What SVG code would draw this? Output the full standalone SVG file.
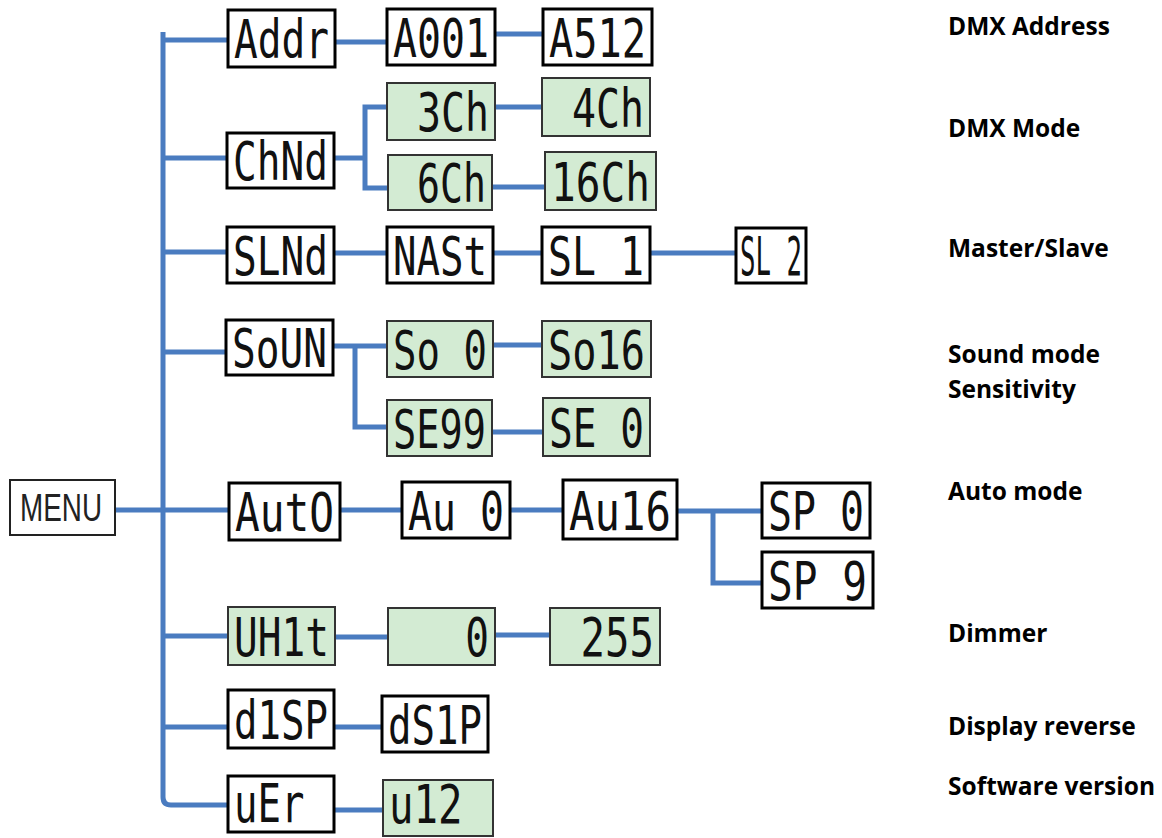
<svg xmlns="http://www.w3.org/2000/svg" width="1162" height="838" viewBox="0 0 1162 838">
<style>
.box{fill:#fff;stroke:#000;stroke-width:3}
.gbox{fill:#d3ebd3;stroke:#333;stroke-width:2}
.mbox{fill:#fff;stroke:#222;stroke-width:2}
.seg{font-family:"DejaVu Sans Mono",monospace;font-weight:normal;font-size:54px;fill:#111}
.lbl{font-family:"Open Sans",sans-serif;font-weight:bold;font-size:24.5px;fill:#000}
.menu{font-family:"Liberation Sans",Arial,sans-serif;font-size:38px;fill:#222}
.conn{stroke:#4a7cc0;stroke-width:5;fill:none}
</style>
<rect width="1162" height="838" fill="#fff"/>
<g id="connectors" class="conn">
<path d="M163,32 V797 Q163,805 171,805 H228"/>
<path d="M163,40 H228"/>
<path d="M163,158 H227"/>
<path d="M163,252 H227"/>
<path d="M163,352 H226"/>
<path d="M115,510 H229"/>
<path d="M163,636 H228"/>
<path d="M163,727 H228"/>
<path d="M335,42 H387"/>
<path d="M495,34 H543"/>
<path d="M334,158 H365"/>
<path d="M387,107 H365 V188 H388"/>
<path d="M495,107 H542"/>
<path d="M492,187 H545"/>
<path d="M334,253 H387"/>
<path d="M493,253 H542"/>
<path d="M650,253 H736"/>
<path d="M333,346 H387"/>
<path d="M355,346 V427 H387"/>
<path d="M493,345 H542"/>
<path d="M492,432 H543"/>
<path d="M340,510 H402"/>
<path d="M510,510 H563"/>
<path d="M677,511 H762"/>
<path d="M713,511 V583 H762"/>
<path d="M335,637 H388"/>
<path d="M495,635 H550"/>
<path d="M334,727 H382"/>
<path d="M334,810 H383"/>
</g>
<g id="menu"><rect class="mbox" x="10" y="480" width="105" height="55"/><text class="menu" x="20" y="521" textLength="82" lengthAdjust="spacingAndGlyphs">MENU</text></g>
<g id="addr"><rect class="box" x="228" y="10" width="107" height="57"/><text class="seg" x="234" y="58" textLength="95" lengthAdjust="spacingAndGlyphs">Addr</text></g>
<g id="a001"><rect class="box" x="387" y="9" width="108" height="56"/><text class="seg" x="393" y="57" textLength="96" lengthAdjust="spacingAndGlyphs">A001</text></g>
<g id="a512"><rect class="box" x="543" y="9" width="109" height="56"/><text class="seg" x="549" y="57" textLength="97" lengthAdjust="spacingAndGlyphs">A512</text></g>
<g id="chnd"><rect class="box" x="227" y="133" width="107" height="55"/><text class="seg" x="233" y="180" textLength="95" lengthAdjust="spacingAndGlyphs">ChNd</text></g>
<g id="ch3"><rect class="gbox" x="387" y="83" width="108" height="57"/><text class="seg" x="393" y="131" textLength="96" lengthAdjust="spacingAndGlyphs" xml:space="preserve"> 3Ch</text></g>
<g id="ch4"><rect class="gbox" x="542" y="78" width="108" height="58"/><text class="seg" x="548" y="127" textLength="96" lengthAdjust="spacingAndGlyphs" xml:space="preserve"> 4Ch</text></g>
<g id="ch6"><rect class="gbox" x="388" y="155" width="104" height="55"/><text class="seg" x="394" y="202" textLength="92" lengthAdjust="spacingAndGlyphs" xml:space="preserve"> 6Ch</text></g>
<g id="ch16"><rect class="gbox" x="545" y="152" width="111" height="58"/><text class="seg" x="551" y="201" textLength="99" lengthAdjust="spacingAndGlyphs">16Ch</text></g>
<g id="slnd"><rect class="box" x="227" y="227" width="107" height="56"/><text class="seg" x="233" y="275" textLength="95" lengthAdjust="spacingAndGlyphs">SLNd</text></g>
<g id="nast"><rect class="box" x="387" y="227" width="106" height="56"/><text class="seg" x="393" y="275" textLength="94" lengthAdjust="spacingAndGlyphs">NASt</text></g>
<g id="sl1"><rect class="box" x="542" y="227" width="108" height="56"/><text class="seg" x="548" y="275" textLength="96" lengthAdjust="spacingAndGlyphs" xml:space="preserve">SL 1</text></g>
<g id="sl2"><rect class="box" x="736" y="228" width="70" height="55"/><text class="seg" x="740" y="275" textLength="62" lengthAdjust="spacingAndGlyphs" xml:space="preserve">SL 2</text></g>
<g id="soun"><rect class="box" x="226" y="320" width="107" height="55"/><text class="seg" x="232" y="367" textLength="95" lengthAdjust="spacingAndGlyphs">SoUN</text></g>
<g id="so0"><rect class="gbox" x="387" y="321" width="106" height="56"/><text class="seg" x="393" y="369" textLength="94" lengthAdjust="spacingAndGlyphs" xml:space="preserve">So 0</text></g>
<g id="so16"><rect class="gbox" x="542" y="321" width="109" height="56"/><text class="seg" x="548" y="369" textLength="97" lengthAdjust="spacingAndGlyphs">So16</text></g>
<g id="se99"><rect class="gbox" x="387" y="400" width="105" height="56"/><text class="seg" x="393" y="448" textLength="93" lengthAdjust="spacingAndGlyphs">SE99</text></g>
<g id="se0"><rect class="gbox" x="543" y="398" width="107" height="58"/><text class="seg" x="549" y="447" textLength="95" lengthAdjust="spacingAndGlyphs" xml:space="preserve">SE 0</text></g>
<g id="auto"><rect class="box" x="229" y="483" width="111" height="57"/><text class="seg" x="235" y="531" textLength="99" lengthAdjust="spacingAndGlyphs">AutO</text></g>
<g id="au0"><rect class="box" x="402" y="482" width="108" height="56"/><text class="seg" x="408" y="530" textLength="96" lengthAdjust="spacingAndGlyphs" xml:space="preserve">Au 0</text></g>
<g id="au16"><rect class="box" x="563" y="480" width="114" height="59"/><text class="seg" x="569" y="530" textLength="102" lengthAdjust="spacingAndGlyphs">Au16</text></g>
<g id="sp0"><rect class="box" x="762" y="483" width="108" height="55"/><text class="seg" x="768" y="530" textLength="96" lengthAdjust="spacingAndGlyphs" xml:space="preserve">SP 0</text></g>
<g id="sp9"><rect class="box" x="762" y="552" width="111" height="56"/><text class="seg" x="768" y="600" textLength="99" lengthAdjust="spacingAndGlyphs" xml:space="preserve">SP 9</text></g>
<g id="uh1t"><rect class="gbox" x="228" y="607" width="107" height="58"/><text class="seg" x="234" y="656" textLength="95" lengthAdjust="spacingAndGlyphs">UH1t</text></g>
<g id="dim0"><rect class="gbox" x="388" y="608" width="107" height="57"/><text class="seg" x="394" y="656" textLength="95" lengthAdjust="spacingAndGlyphs" xml:space="preserve">   0</text></g>
<g id="dim255"><rect class="gbox" x="550" y="608" width="110" height="57"/><text class="seg" x="556" y="656" textLength="98" lengthAdjust="spacingAndGlyphs" xml:space="preserve"> 255</text></g>
<g id="disp"><rect class="box" x="228" y="690" width="106" height="58"/><text class="seg" x="234" y="739" textLength="94" lengthAdjust="spacingAndGlyphs">d1SP</text></g>
<g id="ds1p"><rect class="box" x="382" y="696" width="106" height="56"/><text class="seg" x="388" y="744" textLength="94" lengthAdjust="spacingAndGlyphs">dS1P</text></g>
<g id="uer"><rect class="box" x="228" y="776" width="106" height="56"/><text class="seg" x="234" y="822" textLength="94" lengthAdjust="spacingAndGlyphs" xml:space="preserve">uEr </text></g>
<g id="u12"><rect class="gbox" x="383" y="780" width="110" height="56"/><text class="seg" x="389" y="823" textLength="98" lengthAdjust="spacingAndGlyphs" xml:space="preserve">u12 </text></g>
<g id="labels">
<text class="lbl" x="948" y="35">DMX Address</text>
<text class="lbl" x="948" y="137">DMX Mode</text>
<text class="lbl" x="948" y="257">Master/Slave</text>
<text class="lbl" x="948" y="363">Sound mode</text>
<text class="lbl" x="948" y="398">Sensitivity</text>
<text class="lbl" x="948" y="500">Auto mode</text>
<text class="lbl" x="948" y="642">Dimmer</text>
<text class="lbl" x="948" y="735">Display reverse</text>
<text class="lbl" x="948" y="795">Software version</text>
</g>
</svg>
